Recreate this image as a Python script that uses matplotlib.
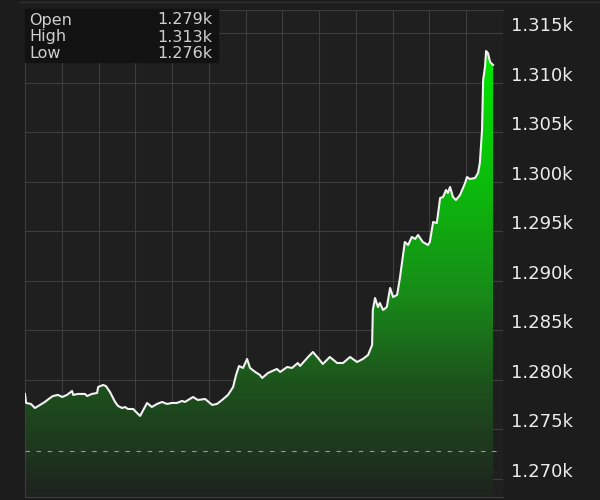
import matplotlib
matplotlib.use("Agg")
import matplotlib.pyplot as plt
import matplotlib.transforms as mtransforms
from matplotlib.colors import LinearSegmentedColormap
import numpy as np

# time in grid units (13 columns), price in points
t = [0.00, 0.03, 0.16, 0.27, 0.41, 0.54, 0.68, 0.76, 0.90, 1.01, 1.14, 1.28, 1.31, 1.44,
     1.63, 1.69, 1.82, 1.96, 1.99, 2.12, 2.20, 2.31, 2.45, 2.53, 2.64, 2.72, 2.80, 2.94,
     3.02, 3.13, 3.32, 3.45, 3.59, 3.73, 3.86, 4.00, 4.13, 4.27, 4.35, 4.57, 4.70, 4.90,
     5.09, 5.22, 5.36, 5.52, 5.66, 5.74, 5.82, 5.93, 6.04, 6.12, 6.26, 6.39, 6.45, 6.61,
     6.85, 6.94, 7.13, 7.26, 7.42, 7.48, 7.70, 7.83, 7.97, 8.10, 8.29, 8.49, 8.65, 8.84,
     9.03, 9.19, 9.33, 9.44, 9.46, 9.52, 9.60, 9.65, 9.74, 9.84, 9.93, 10.01, 10.12, 10.20,
     10.33, 10.42, 10.52, 10.61, 10.69, 10.82, 10.96, 11.01, 11.10, 11.20, 11.29, 11.37,
     11.45, 11.50, 11.56, 11.64, 11.72, 11.83, 11.97, 12.02, 12.10, 12.24, 12.32, 12.37,
     12.43, 12.46, 12.51, 12.54, 12.59, 12.65, 12.73]
price = [1278.58, 1277.67, 1277.57, 1277.16, 1277.47, 1277.77, 1278.17, 1278.37, 1278.48,
         1278.27, 1278.48, 1278.88, 1278.48, 1278.58, 1278.58, 1278.37, 1278.58, 1278.68,
         1279.28, 1279.48, 1279.38, 1278.78, 1277.77, 1277.37, 1277.16, 1277.26, 1277.06,
         1277.06, 1276.76, 1276.36, 1277.67, 1277.26, 1277.57, 1277.77, 1277.57, 1277.67,
         1277.67, 1277.87, 1277.77, 1278.27, 1277.97, 1278.07, 1277.47, 1277.57, 1277.97,
         1278.48, 1279.28, 1280.49, 1281.40, 1281.20, 1282.11, 1281.20, 1280.80, 1280.49,
         1280.19, 1280.70, 1281.10, 1280.80, 1281.30, 1281.20, 1281.70, 1281.40, 1282.31,
         1282.81, 1282.21, 1281.60, 1282.31, 1281.70, 1281.70, 1282.31, 1281.80, 1282.11,
         1282.51, 1283.52, 1287.05, 1288.26, 1287.35, 1287.76, 1287.05, 1287.35, 1289.27,
         1288.36, 1288.57, 1290.38, 1293.91, 1293.61, 1294.42, 1294.22, 1294.62, 1293.91,
         1293.61, 1293.91, 1295.93, 1295.83, 1298.35, 1298.45, 1299.16, 1298.86, 1299.46,
         1298.45, 1298.15, 1298.65, 1299.87, 1300.47, 1300.27, 1300.37, 1300.87, 1301.88,
         1305.21, 1310.26, 1311.57, 1313.18, 1312.98, 1312.07, 1311.77]

prev_close = 1272.83
yticks = [1270, 1275, 1280, 1285, 1290, 1295, 1300, 1305, 1310, 1315]
ytick_labels = ["1.270k", "1.275k", "1.280k", "1.285k", "1.290k",
                "1.295k", "1.300k", "1.305k", "1.310k", "1.315k"]
info_names = ["Open", "High", "Low"]
info_values = ["1.279k", "1.313k", "1.276k"]

t = np.array(t)
price = np.array(price)

fig = plt.figure(figsize=(6, 5), dpi=100, facecolor="#1c1c1c")
ax = fig.add_axes([25/600, 3/500, 478/600, 487/500])
ax.set_facecolor("#1f1f1f")

ymin, ymax = 1268.18, 1317.32
ax.set_xlim(0, 13)
ax.set_ylim(ymin, ymax)

# gradient fill under the line
cmap = LinearSegmentedColormap.from_list(
    "g", [(0.0, "#1f231f"), (0.25, "#1d521d"), (0.45, "#188a18"),
          (0.7, "#0bbb0b"), (1.0, "#00e800")])
grad = np.linspace(0, 1, 256).reshape(-1, 1)
poly = ax.fill_between(t, price, ymin, color="none", lw=0)
img = ax.imshow(grad, cmap=cmap, aspect="auto", origin="lower",
                extent=[t[0], t[-1], ymin, price.max()], zorder=1)
img.set_clip_path(poly.get_paths()[0], transform=ax.transData)

ax.plot(t, price, color="#f2f2f2", lw=1.5, zorder=3)
ax.axhline(prev_close, color="#9a9a9a", lw=0.8, dashes=(4, 6), zorder=4)

ax.set_xticks(range(14))
ax.set_yticks(yticks)
ax.grid(True, color="#3d3d3d", lw=0.8, zorder=0)
ax.set_axisbelow(True)
ax.tick_params(length=0, labelleft=False, labelbottom=False, labelright=False)
for s in ["left", "top", "bottom"]:
    ax.spines[s].set_color("#3d3d3d")
    ax.spines[s].set_linewidth(0.8)
ax.spines["right"].set_visible(False)

# price labels sit just above their grid line
trans = mtransforms.blended_transform_factory(ax.transAxes, ax.transData) + \
    mtransforms.ScaledTranslation(8/100, 7/100, fig.dpi_scale_trans)
for v, lab in zip(yticks, ytick_labels):
    ax.text(1.0, v, lab, transform=trans, ha="left", va="center",
            color="#ececec", fontsize=13, clip_on=False)

# Open / High / Low box
fig.patches.append(plt.Rectangle((25/600, 438/500), 193/600, 53/500,
                                 transform=fig.transFigure, color="#121212", zorder=5))
rows = [480, 463, 447]
for name, val, y in zip(info_names, info_values, rows):
    fig.text(29/600, y/500, name, color="#cfcfcf", fontsize=11.5, va="center", zorder=6)
    fig.text(212/600, y/500, val, color="#cfcfcf", fontsize=11.5, va="center",
             ha="right", zorder=6)

fig.add_artist(plt.Line2D([20/600, 1], [498/500, 498/500], color="#303030", lw=1,
                          transform=fig.transFigure))

fig.savefig("out.png", dpi=100, facecolor=fig.get_facecolor())
